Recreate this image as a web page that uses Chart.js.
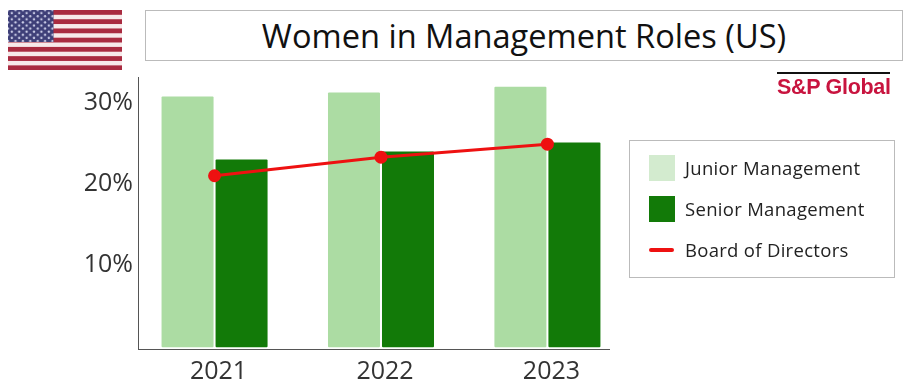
<!DOCTYPE html>
<html>
<head>
<meta charset="utf-8">
<title>Women in Management Roles (US)</title>
<script src="https://cdn.jsdelivr.net/npm/chart.js@4"></script>
<style>
  html, body { margin: 0; padding: 0; background: #fff; }
  #wrap { position: relative; width: 906px; height: 390px; overflow: hidden; font-family: "Open Sans", sans-serif; color: #222; }
  #stockCanvas { position: absolute; left: 0; top: 0; }
  #flag { position: absolute; left: 8px; top: 10px; }
  #title {
    position: absolute; left: 145px; top: 10px; width: 756px; height: 49px;
    border: 1px solid #bbb; text-align: center; line-height: 49px;
    font-size: 32.6px; color: #111;
  }
  #logo {
    position: absolute; left: 777px; top: 72px; width: 113px; border-top: 2.5px solid #111;
    font: bold 21.5px/27px "Liberation Sans", sans-serif; color: #c8143f; white-space: nowrap; letter-spacing: -0.3px;
  }
  #legend {
    position: absolute; left: 629px; top: 140px; width: 264px; height: 136px;
    border: 1px solid #bbb;
  }
  .row { position: absolute; left: 19px; height: 26px; font-size: 18.5px; line-height: 26px; white-space: nowrap; color: #222; letter-spacing: 0.3px; }
  .swatch { position: absolute; left: 0; top: 0; width: 26px; height: 26px; }
  .dash { position: absolute; left: 0; top: 11px; width: 25px; height: 4px; border-radius: 2px; }
  .row span { position: absolute; left: 36px; }
</style>
</head>
<body>
<div id="wrap">
  <svg id="flag" width="114" height="60" viewBox="0 0 114 60">
    <defs>
      <pattern id="stars" x="2" y="1.5" width="7.4" height="6.2" patternUnits="userSpaceOnUse">
        <circle cx="1.8" cy="1.6" r="1.2" fill="#c9cbe6"/>
        <circle cx="5.5" cy="4.7" r="1.2" fill="#c9cbe6"/>
      </pattern>
    </defs>
    <rect width="114" height="60" fill="#f7e9ea"/>
    <g id="stripes" fill="#a92b40"></g>
    <rect width="45.5" height="32" fill="#3e3f78"/>
    <rect width="45.5" height="32" fill="url(#stars)"/>
  </svg>
  <div id="title">Women in Management Roles (US)</div>
  <canvas id="stockCanvas" width="906" height="390"></canvas>
  <div id="logo">S&amp;P Global</div>
  <div id="legend"></div>
</div>
<script>
// 読み取った値
const years = [2021, 2022, 2023];
const juniorManagement = [30.6, 31.1, 31.8];
const seniorManagement = [22.8, 23.8, 24.9];
const boardOfDirectors = [20.8, 23.1, 24.7];
const yTicks = [10, 20, 30];
const legendLabels = ['Junior Management', 'Senior Management', 'Board of Directors'];

const JUNIOR_COLOR = '#acdca3';
const JUNIOR_SWATCH = '#d3ebcf';
const SENIOR_COLOR = '#127a08';
const LINE_COLOR = '#ee1111';

// 国旗の赤いストライプ
const stripes = document.getElementById('stripes');
for (let i = 0; i < 7; i++) {
    const r = document.createElementNS('http://www.w3.org/2000/svg', 'rect');
    r.setAttribute('y', i * 9.23);
    r.setAttribute('width', 114);
    r.setAttribute('height', 4.8);
    stripes.appendChild(r);
}

// 凡例
const legendEl = document.getElementById('legend');
const legendItems = [
    { label: legendLabels[0], color: JUNIOR_SWATCH, cls: 'swatch', top: 14 },
    { label: legendLabels[1], color: SENIOR_COLOR, cls: 'swatch', top: 55 },
    { label: legendLabels[2], color: LINE_COLOR, cls: 'dash', top: 96 }
];
legendItems.forEach(item => {
    const row = document.createElement('div');
    row.className = 'row';
    row.style.top = item.top + 'px';
    row.innerHTML = `<i class="${item.cls}" style="background:${item.color}"></i><span>${item.label}</span>`;
    legendEl.appendChild(row);
});

const toPoints = values => values.map((v, i) => ({ x: years[i], y: v }));
const tickFont = { family: '"Open Sans", sans-serif', size: 25 };

new Chart(document.getElementById('stockCanvas').getContext('2d'), {
    type: 'bar',
    data: {
        datasets: [
            {
                type: 'line',
                label: legendLabels[2],
                data: toPoints(boardOfDirectors),
                borderColor: LINE_COLOR,
                backgroundColor: LINE_COLOR,
                borderWidth: 3,
                pointRadius: 5,
                tension: 0,
                order: 0
            },
            {
                label: legendLabels[0],
                data: toPoints(juniorManagement),
                backgroundColor: JUNIOR_COLOR,
                base: -0.37,
                borderRadius: 1,
                borderSkipped: false,
                categoryPercentage: 0.649,
                barPercentage: 0.963,
                order: 1
            },
            {
                label: legendLabels[1],
                data: toPoints(seniorManagement),
                backgroundColor: SENIOR_COLOR,
                base: -0.37,
                borderRadius: 1,
                borderSkipped: false,
                categoryPercentage: 0.649,
                barPercentage: 0.963,
                order: 1
            }
        ]
    },
    options: {
        responsive: false,
        animation: false,
        layout: { padding: { top: 77, right: 297, left: 0, bottom: 0 } },
        plugins: { legend: { display: false }, tooltip: { enabled: false } },
        scales: {
            x: {
                type: 'linear',
                offset: false,
                min: 2020.54,
                max: 2023.37,
                grid: { display: false, drawTicks: false },
                border: { color: '#555', width: 1 },
                afterBuildTicks: scale => { scale.ticks = years.map(v => ({ value: v })); },
                afterFit: scale => { scale.height = 41; },
                ticks: {
                    autoSkip: false,
                    maxRotation: 0,
                    padding: 8,
                    labelOffset: 4,
                    color: '#333',
                    font: tickFont,
                    callback: v => String(v)
                }
            },
            y: {
                min: -0.6,
                max: 33,
                grid: { display: false, drawTicks: false },
                border: { color: '#555', width: 1 },
                afterBuildTicks: scale => { scale.ticks = yTicks.map(v => ({ value: v })); },
                afterFit: scale => { scale.width = 138; },
                ticks: {
                    padding: 5,
                    labelOffset: 2,
                    color: '#333',
                    font: tickFont,
                    callback: v => v + '%'
                }
            }
        }
    }
});
</script>
</body>
</html>
